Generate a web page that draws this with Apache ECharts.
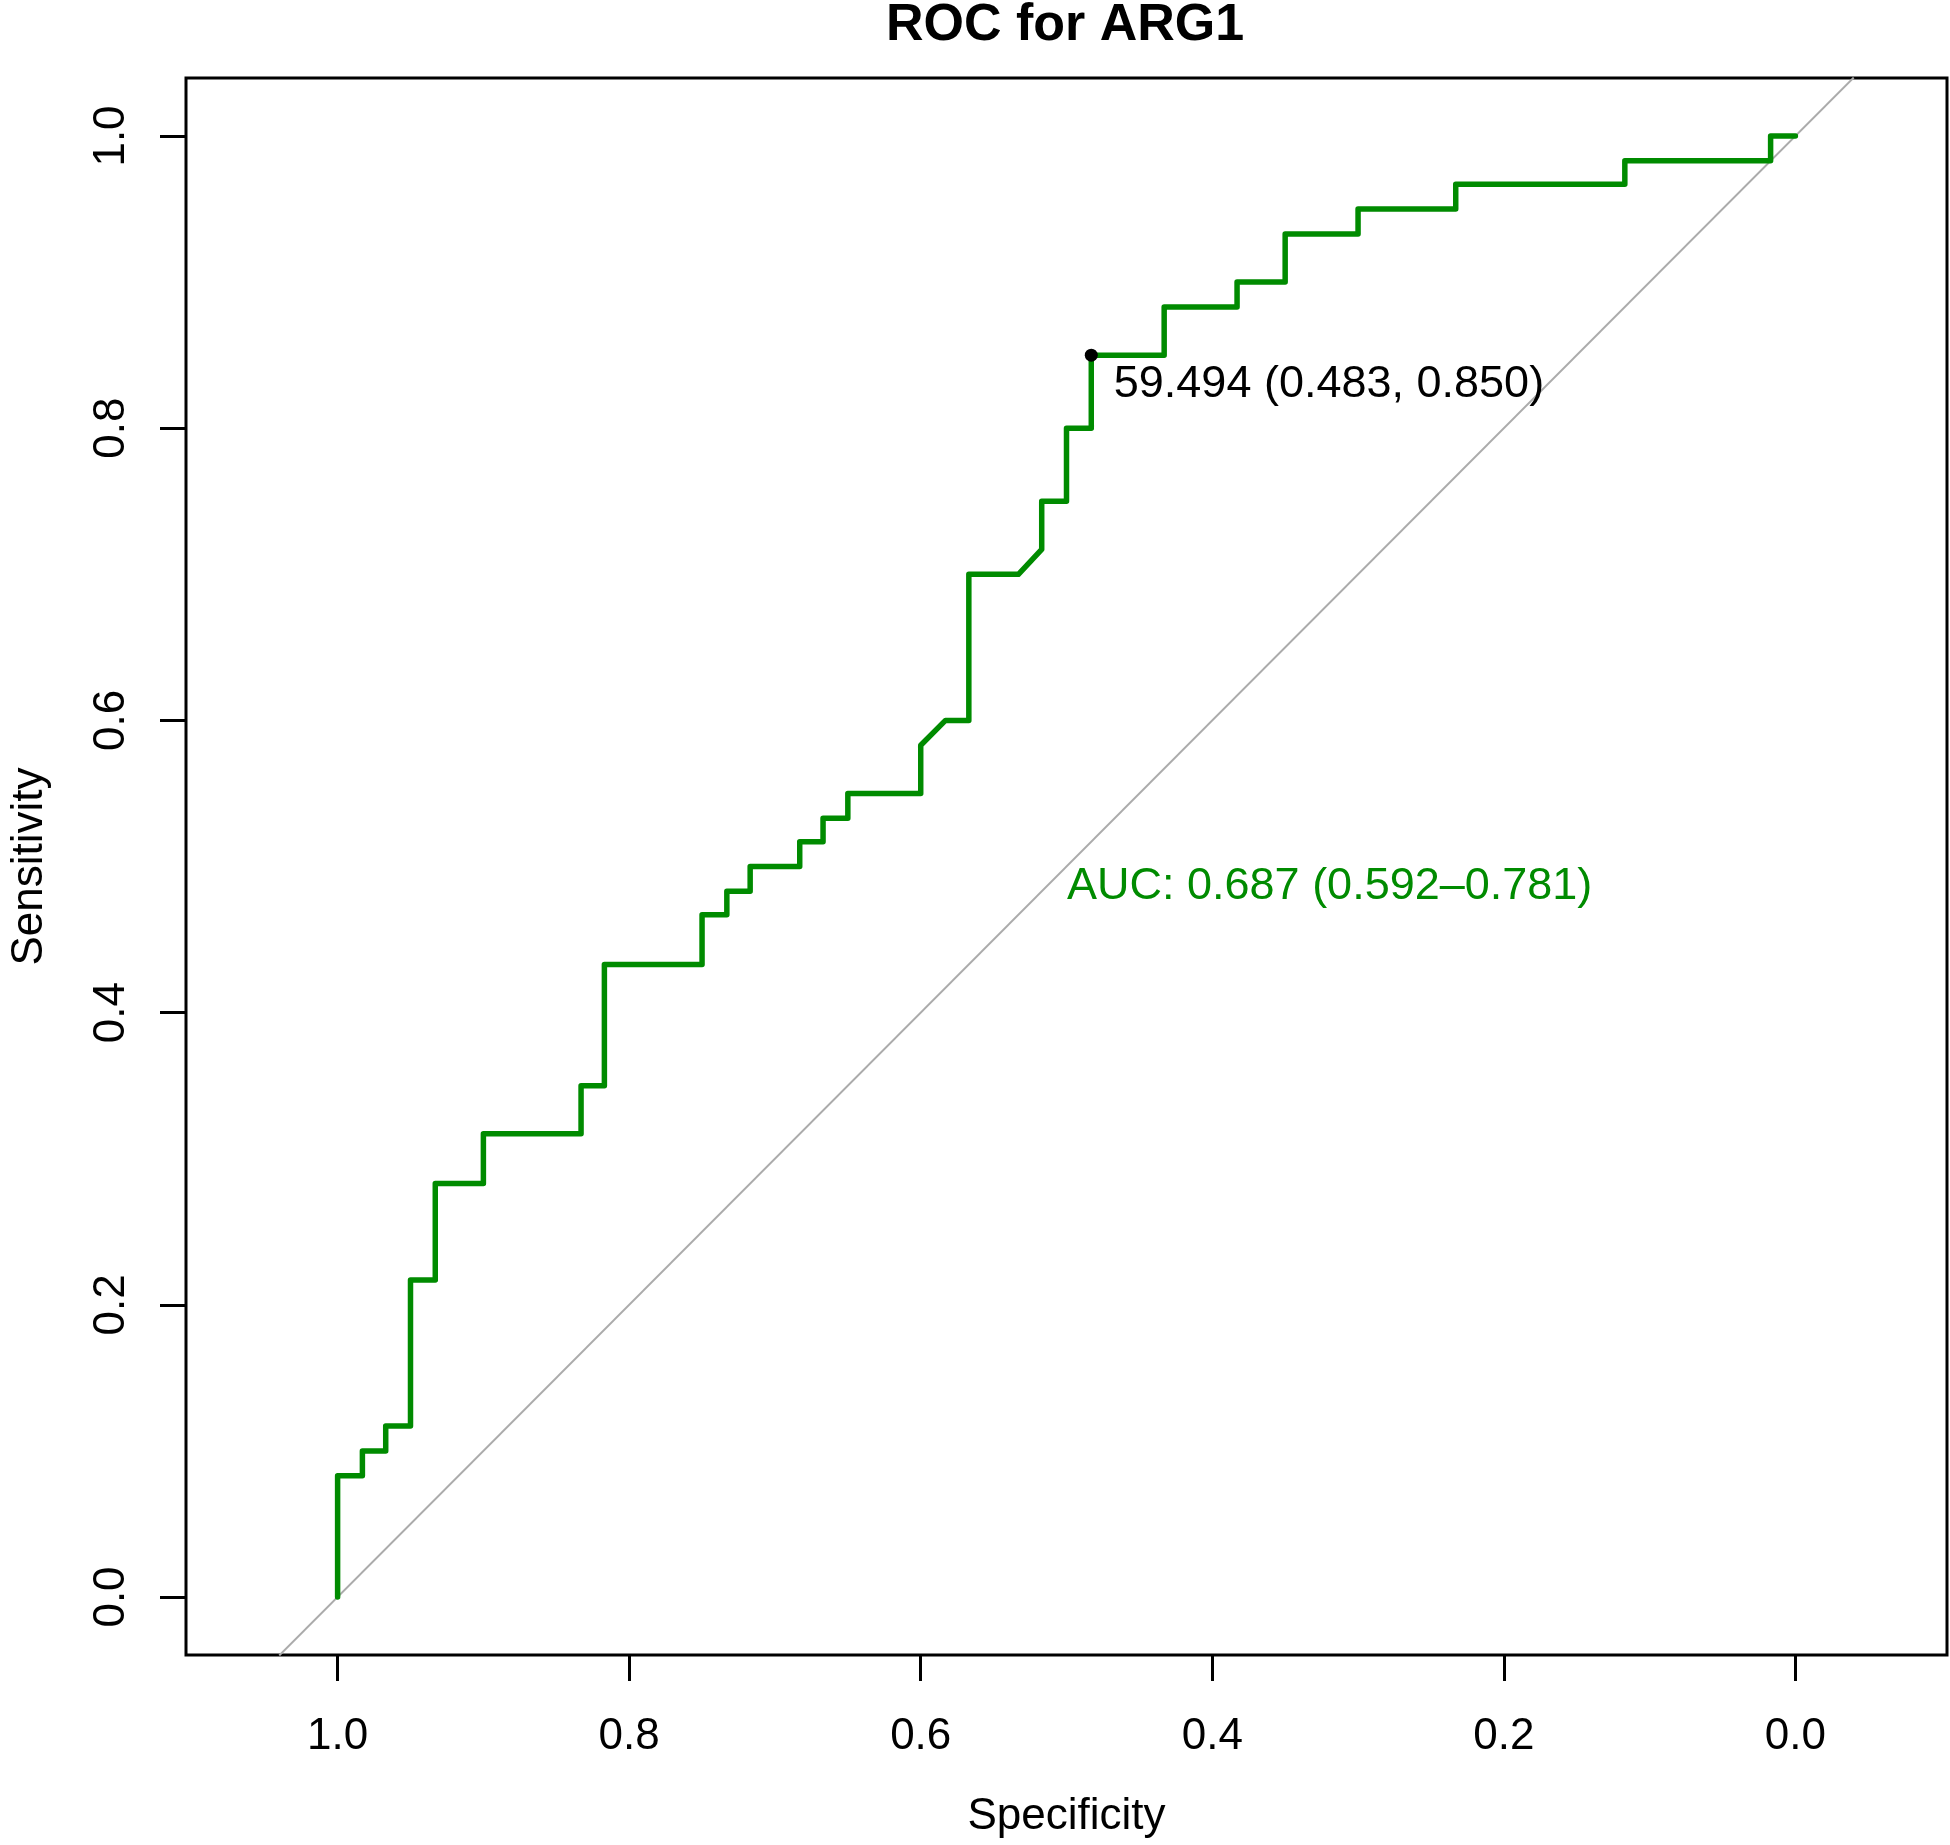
<!DOCTYPE html>
<html>
<head>
<meta charset="utf-8">
<title>ROC for ARG1</title>
<script src="https://cdn.jsdelivr.net/npm/echarts@6/dist/echarts.min.js"></script>
<style>
	html, body { margin: 0; padding: 0; background: #fff; }
	#container { width: 1950px; height: 1845px; }
</style>
</head>
<body>
<div id="container"></div>
<script>
// ROC curve points (specificity, sensitivity)
var spec = [1.000, 1.000, 0.983, 0.983, 0.967, 0.967, 0.950, 0.950, 0.933, 0.933,
	0.900, 0.900, 0.833, 0.833, 0.817, 0.817, 0.750, 0.750, 0.733, 0.733,
	0.717, 0.717, 0.683, 0.683, 0.667, 0.667, 0.650, 0.650, 0.600, 0.600,
	0.583, 0.567, 0.567, 0.533, 0.517, 0.517, 0.500, 0.500, 0.483, 0.483,
	0.433, 0.433, 0.383, 0.383, 0.350, 0.350, 0.300, 0.300, 0.233, 0.233,
	0.117, 0.117, 0.017, 0.017, 0.000];
var sens = [0.000, 0.083, 0.083, 0.100, 0.100, 0.117, 0.117, 0.217, 0.217, 0.283,
	0.283, 0.317, 0.317, 0.350, 0.350, 0.433, 0.433, 0.467, 0.467, 0.483,
	0.483, 0.500, 0.500, 0.517, 0.517, 0.533, 0.533, 0.550, 0.550, 0.583,
	0.600, 0.600, 0.700, 0.700, 0.717, 0.750, 0.750, 0.800, 0.800, 0.850,
	0.850, 0.883, 0.883, 0.900, 0.900, 0.933, 0.933, 0.950, 0.950, 0.967,
	0.967, 0.983, 0.983, 1.000, 1.000];

// reference diagonal (sens = 1 - spec), drawn across the whole plot
var diagSpec = [1.04, -0.04];
var diagSens = [-0.04, 1.04];

// best threshold
var bestSpec = 0.483;
var bestSens = 0.850;
var bestText = '59.494 (0.483, 0.850)';

// AUC text anchor
var aucSpec = 0.5;
var aucSens = 0.5;
var aucText = 'AUC: 0.687 (0.592\u20130.781)';

var tickValues = [0, 0.2, 0.4, 0.6, 0.8, 1.0];

var FONT = 'Liberation Sans, Arial, sans-serif';
var GREEN = '#008B00';

function zip(a, b) {
	var out = [];
	for (var i = 0; i < a.length; i++) out.push([a[i], b[i]]);
	return out;
}

var myChart = echarts.init(document.getElementById('container'), null, { renderer: 'canvas' });

var option = {
	backgroundColor: '#fff',
	animation: false,
	title: {
		text: 'ROC for ARG1',
		left: 1065,
		top: 0,
		padding: 0,
		textAlign: 'center',
		textStyle: { fontFamily: FONT, fontSize: 52, fontWeight: 'bold', color: '#000' }
	},
	grid: {
		left: 183,
		top: 78,
		width: 1764,
		height: 1577,
		show: true,
		borderColor: '#000',
		borderWidth: 3,
		backgroundColor: 'transparent'
	},
	xAxis: {
		type: 'value',
		inverse: true,
		min: -0.104,
		max: 1.104,
		name: 'Specificity',
		nameLocation: 'middle',
		nameGap: 140,
		nameTextStyle: { fontFamily: FONT, fontSize: 44, color: '#000' },
		splitLine: { show: false },
		axisLine: { show: false, onZero: false },
		axisTick: {
			show: true,
			customValues: tickValues,
			length: 26,
			lineStyle: { color: '#000', width: 3 }
		},
		axisLabel: {
			customValues: tickValues,
			margin: 60,
			fontFamily: FONT,
			fontSize: 44,
			color: '#000',
			formatter: function (v) { return v.toFixed(1); }
		}
	},
	yAxis: {
		type: 'value',
		min: -0.0397,
		max: 1.0397,
		name: 'Sensitivity',
		nameLocation: 'middle',
		nameGap: 134,
		nameTextStyle: { fontFamily: FONT, fontSize: 44, color: '#000' },
		splitLine: { show: false },
		axisLine: { show: false, onZero: false },
		axisTick: {
			show: true,
			customValues: tickValues,
			length: 26,
			lineStyle: { color: '#000', width: 3 }
		},
		axisLabel: {
			customValues: tickValues,
			rotate: 90,
			margin: 52,
			fontFamily: FONT,
			fontSize: 44,
			color: '#000',
			formatter: function (v) { return v.toFixed(1); }
		}
	},
	series: [
		{
			name: 'diagonal',
			type: 'line',
			data: zip(diagSpec, diagSens),
			showSymbol: false,
			silent: true,
			clip: true,
			lineStyle: { color: '#ABABAB', width: 2 },
			z: 1
		},
		{
			name: 'ROC',
			type: 'line',
			data: zip(spec, sens),
			showSymbol: false,
			clip: true,
			lineStyle: { color: GREEN, width: 5.5, cap: 'round', join: 'round' },
			z: 2
		},
		{
			name: 'best',
			type: 'scatter',
			data: [[bestSpec, bestSens]],
			symbol: 'circle',
			symbolSize: 13,
			itemStyle: { color: '#000', opacity: 1 },
			label: {
				show: true,
				position: 'right',
				distance: 16,
				offset: [0, 29],
				formatter: bestText,
				fontFamily: FONT,
				fontSize: 45,
				color: '#000',
				opacity: 1
			},
			z: 3
		},
		{
			name: 'auc',
			type: 'scatter',
			data: [[aucSpec, aucSens]],
			symbolSize: 1,
			itemStyle: { color: 'rgba(0,0,0,0)', opacity: 1 },
			label: {
				show: true,
				position: 'right',
				distance: 0,
				offset: [0, 20],
				formatter: aucText,
				fontFamily: FONT,
				fontSize: 45,
				color: GREEN,
				opacity: 1
			},
			z: 3
		}
	]
};

myChart.setOption(option);
</script>
</body>
</html>
